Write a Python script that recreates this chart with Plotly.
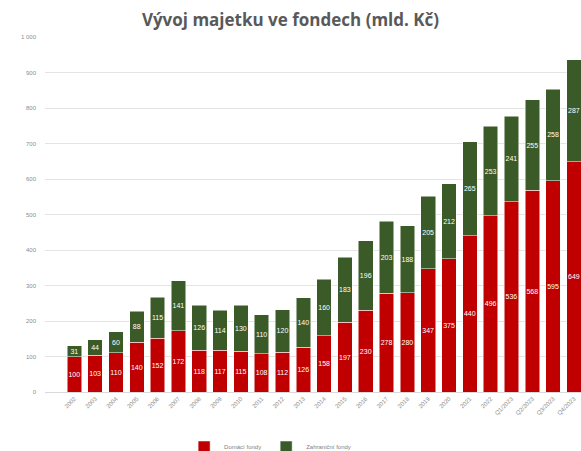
import plotly.graph_objects as go

categories = ["2002", "2003", "2004", "2005", "2006", "2007", "2008", "2009", "2010",
              "2011", "2012", "2013", "2014", "2015", "2016", "2017", "2018", "2019",
              "2020", "2021", "2022", "Q1/2023", "Q2/2023", "Q3/2023", "Q4/2023"]
domaci = [100, 103, 110, 140, 152, 172, 118, 117, 115, 108, 112, 126, 158, 197, 230,
          278, 280, 347, 375, 440, 496, 536, 568, 595, 649]
zahranicni = [31, 44, 60, 88, 115, 141, 126, 114, 130, 110, 120, 140, 160, 183, 196,
              203, 188, 205, 212, 265, 253, 241, 255, 258, 287]
y_ticks = list(range(0, 1001, 100))

RED = "#C00000"
GREEN = "#3A5A28"

fig = go.Figure()
fig.add_trace(go.Bar(
    x=categories, y=domaci, name="Domácí fondy",
    marker=dict(color=RED, line=dict(color="white", width=0.5)),
    text=[str(v) for v in domaci], textposition="inside", insidetextanchor="middle",
    textangle=0, constraintext="none",
    textfont=dict(color="white", size=7, family="Liberation Sans"),
))
fig.add_trace(go.Bar(
    x=categories, y=zahranicni, name="Zahraniční fondy",
    marker=dict(color=GREEN, line=dict(color="white", width=0.5)),
    text=[str(v) for v in zahranicni], textposition="inside", insidetextanchor="middle",
    textangle=0, constraintext="none",
    textfont=dict(color="white", size=7, family="Liberation Sans"),
))

fig.update_layout(
    barmode="stack",
    bargap=0.3,
    width=581, height=451,
    margin=dict(l=45, r=0, t=37, b=59, autoexpand=False),
    paper_bgcolor="white", plot_bgcolor="white",
    separators=", ",
    font=dict(family="Liberation Sans", color="#7F7F7F", size=7),
    title=dict(text="<b>Vývoj majetku ve fondech (mld. Kč)</b>", x=0.5, xanchor="center",
               y=0.955, yanchor="middle",
               font=dict(size=17, color="#595959", family="Open Sans")),
    xaxis=dict(type="category", range=[-1.41, 24.34], tickangle=-45, automargin=False,
               tickfont=dict(size=6, color="#8C8C8C"), showgrid=False,
               showline=True, linecolor="#D9D9D9", ticks=""),
    yaxis=dict(range=[0, 1000], tickvals=y_ticks, tickformat=",d", automargin=False,
               tickfont=dict(size=6, color="#8C8C8C"), showgrid=True,
               gridcolor="#E4E4E4", gridwidth=1, zeroline=False,
               ticklabelstandoff=8),
    legend=dict(orientation="h", x=0.42, xanchor="center", y=-0.155, yanchor="middle",
                font=dict(size=6, color="#7F7F7F"), traceorder="normal",
                itemwidth=30),
)

fig.write_html("out.html", config={"displayModeBar": False},
               post_script="document.body.style.margin='0px';document.body.style.overflow='hidden';")
